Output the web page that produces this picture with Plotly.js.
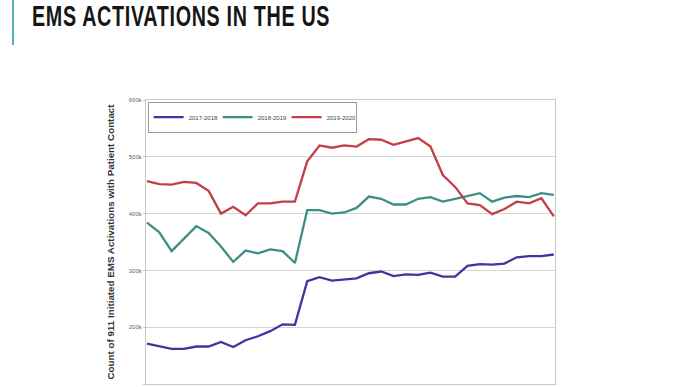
<!DOCTYPE html>
<html>
<head>
<meta charset="utf-8">
<script src="https://cdn.plot.ly/plotly-3.0.1.min.js"></script>
<style>
  html, body { margin: 0; padding: 0; background: #ffffff; overflow: hidden; }
  #wrap { position: relative; width: 688px; height: 387px; }
  #chart { position: absolute; left: 0; top: 0; width: 688px; height: 387px; }
  #accent { position: absolute; left: 12px; top: 0; width: 2px; height: 45px; background: #55b3ae; z-index: 5; }
  #slideTitle {
    position: absolute; left: 32px; top: 2px; z-index: 5;
    font-family: "Liberation Sans", Arial, sans-serif; font-weight: bold;
    font-size: 29px; line-height: 29px; color: #161616; white-space: nowrap;
    transform: scaleX(0.68); transform-origin: 0 0; letter-spacing: 1px;
  }
</style>
</head>
<body>
<div id="wrap">
  <div id="chart"></div>
  <div id="accent"></div>
  <div id="slideTitle">EMS ACTIVATIONS IN THE US</div>
</div>
<script>
// Week index of the season (x categories)
const weeks = [1, 2, 3, 4, 5, 6, 7, 8, 9, 10, 11, 12, 13, 14, 15, 16, 17,
               18, 19, 20, 21, 22, 23, 24, 25, 26, 27, 28, 29, 30, 31, 32, 33, 34];

const seriesNames = ["2017-2018", "2018-2019", "2019-2020"];

// Count of 911 initiated EMS activations with patient contact
const season2017_2018 = [171000, 166000, 162000, 162000, 166000, 166000, 174000, 165000, 177000, 184000,
                         193000, 205000, 204000, 281000, 288000, 282000, 284000, 286000, 295000, 298000,
                         290000, 293000, 292000, 296000, 289000, 289000, 308000, 311000, 310000, 312000,
                         323000, 325000, 325000, 328000];

const season2018_2019 = [384000, 367000, 334000, 356000, 378000, 366000, 342000, 315000, 335000, 330000,
                         337000, 334000, 313000, 406000, 406000, 400000, 402000, 410000, 430000, 426000,
                         416000, 416000, 426000, 429000, 421000, 426000, 431000, 436000, 421000, 428000,
                         431000, 429000, 436000, 433000];

const season2019_2020 = [457000, 452000, 451000, 456000, 454000, 440000, 400000, 412000, 397000, 418000,
                         418000, 421000, 421000, 492000, 520000, 516000, 520000, 518000, 531000, 530000,
                         521000, 527000, 533000, 518000, 468000, 447000, 418000, 415000, 399000, 408000,
                         421000, 418000, 427000, 395000];

const yTickVals = [100000, 200000, 300000, 400000, 500000, 600000];
const yTickText = ["100k", "200k", "300k", "400k", "500k", "600k"];

const colors = ["#3a389e", "#3d8f86", "#c43e48"];
const values = [season2017_2018, season2018_2019, season2019_2020];

const traces = values.map((v, k) => ({
  x: weeks,
  y: v,
  type: "scatter",
  mode: "lines",
  name: seriesNames[k],
  line: { color: colors[k], width: 2.3 },
  hoverinfo: "x+y"
}));

const layout = {
  width: 688,
  height: 387,
  margin: { l: 146, r: 133, t: 100, b: 3, pad: 0 },
  paper_bgcolor: "#ffffff",
  plot_bgcolor: "#ffffff",
  font: { family: "Liberation Sans, Arial, sans-serif", color: "#555555" },
  showlegend: true,
  legend: {
    orientation: "h",
    x: 0.004, xanchor: "left",
    y: 0.994, yanchor: "top",
    bgcolor: "#ffffff",
    bordercolor: "#9a9a9a",
    borderwidth: 1,
    font: { size: 6, color: "#444444" },
    entrywidth: 24,
    tracegroupgap: 0
  },
  xaxis: {
    range: [0.92, 34.1],
    showgrid: false,
    zeroline: false,
    showline: true,
    linecolor: "#c8c8c8",
    linewidth: 1,
    mirror: true,
    showticklabels: false,
    ticks: ""
  },
  yaxis: {
    range: [100000, 600000],
    tickvals: yTickVals,
    ticktext: yTickText,
    tickfont: { size: 6, color: "#666666" },
    showgrid: true,
    gridcolor: "#d4d4d4",
    gridwidth: 1,
    zeroline: false,
    showline: true,
    linecolor: "#c8c8c8",
    linewidth: 1,
    mirror: true,
    ticks: "outside",
    ticklen: 2,
    tickcolor: "#c8c8c8",
    title: {
      text: "Count of 911 Initiated EMS Activations with Patient Contact",
      font: { size: 9.8, color: "#333333", family: "Liberation Sans, Arial, sans-serif", weight: "bold" },
      standoff: 12
    }
  }
};

Plotly.newPlot("chart", traces, layout, { displayModeBar: false, staticPlot: true });
</script>
</body>
</html>
